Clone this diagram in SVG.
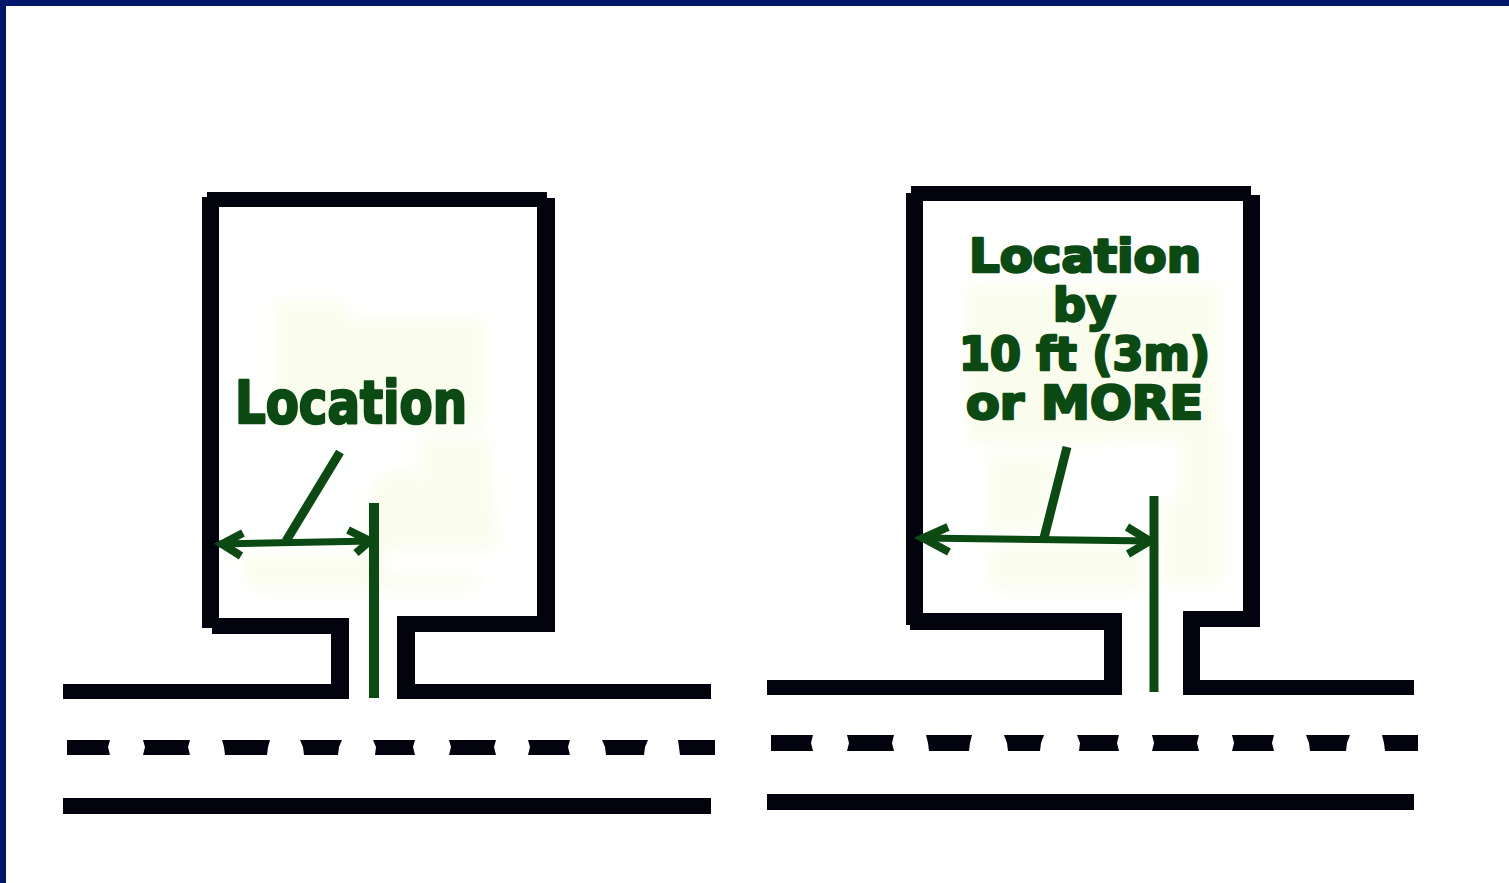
<svg xmlns="http://www.w3.org/2000/svg" width="1509" height="883" viewBox="0 0 1509 883">
<style>
.k{fill:#03020f}
.patch{fill:#fafdee;filter:url(#soft)}
.g{fill:none;stroke:#0b4a12;stroke-linecap:butt;stroke-linejoin:miter}
.t{font-family:"DejaVu Sans","Liberation Sans",sans-serif;font-weight:700;fill:#0b4a12;stroke:#0b4a12;stroke-width:2.6;stroke-linejoin:round}
</style>
<defs><filter id="soft" x="-20%" y="-20%" width="140%" height="140%"><feGaussianBlur stdDeviation="7"/></filter></defs>
<rect width="1509" height="883" fill="#fff"/>
<rect width="1509" height="6" fill="#01186a"/>
<rect width="6" height="883" fill="#01186a"/>
<g id="background-patches">
<path class="patch" d="M275 300H345L350 318H485V430H425V470H385V575H480V590H250L240 555H372V480H420V435H470V425H275ZM425 440H490L497 550H385V480H425Z"/>
<path class="patch" d="M965 285H1220V440H1110V445H970L965 290ZM1180 430H1222V585H1165V500H1180ZM990 455H1060L1040 530H990ZM990 545H1145V590H990Z"/>
</g>
<g id="left-building">
<rect class="k" x="207" y="192" width="340" height="15"/>
<rect class="k" x="202" y="197" width="17" height="431"/>
<rect class="k" x="537" y="198" width="18" height="432"/>
<rect class="k" x="212" y="618" width="137" height="16"/>
<rect class="k" x="331" y="618" width="18" height="81"/>
<rect class="k" x="397" y="616" width="158" height="16"/>
<rect class="k" x="397" y="618" width="18" height="81"/>
</g>
<g id="left-road">
<rect class="k" x="63" y="684" width="286" height="15"/>
<rect class="k" x="397" y="684" width="314" height="15"/>
<rect class="k" x="63" y="798" width="648" height="16"/>
<path class="k" d="M67 740h43l-2 7 2 8h-43z"/>
<path class="k" d="M143 740h47l-2 7 2 8h-47l2-8z"/>
<path class="k" d="M222 740h48l-2 7-1 8h-42l-1-8z"/>
<path class="k" d="M300 740h42l-3 7-1 8h-34l-1-8z"/>
<path class="k" d="M373 740h42l-2 7 2 8h-40l1-8z"/>
<path class="k" d="M449 740h47l-2 7 2 8h-47l2-8z"/>
<path class="k" d="M528 740h42l-2 7 2 8h-42l2-8z"/>
<path class="k" d="M602 740h46l-3 7-1 8h-38l-1-8z"/>
<path class="k" d="M678 740h37v15h-35l-1-8z"/>
</g>
<g id="right-building">
<rect class="k" x="911" y="186" width="340" height="15"/>
<rect class="k" x="906" y="193" width="17" height="432"/>
<rect class="k" x="1243" y="195" width="17" height="430"/>
<rect class="k" x="910" y="613" width="212" height="17"/>
<rect class="k" x="1104" y="613" width="18" height="82"/>
<rect class="k" x="1183" y="611" width="77" height="16"/>
<rect class="k" x="1183" y="612" width="17" height="83"/>
</g>
<g id="right-road">
<rect class="k" x="767" y="680" width="355" height="15"/>
<rect class="k" x="1183" y="680" width="231" height="15"/>
<rect class="k" x="767" y="794" width="647" height="16"/>
<path class="k" d="M771 735h42l-2 8 2 8h-42z"/>
<path class="k" d="M847 735h47l-2 8 2 8h-47l2-8z"/>
<path class="k" d="M926 735h46l-2 8-1 8h-40l-1-8z"/>
<path class="k" d="M1004 735h40l-3 8-1 8h-32l-1-8z"/>
<path class="k" d="M1077 735h42l-2 8 2 8h-40l1-8z"/>
<path class="k" d="M1152 735h47l-2 8 2 8h-47l2-8z"/>
<path class="k" d="M1232 735h42l-2 8 2 8h-42l2-8z"/>
<path class="k" d="M1306 735h44l-3 8-1 8h-36l-1-8z"/>
<path class="k" d="M1382 735h36v16h-33l-1-8z"/>
</g>
<g id="connectors">
<path class="g" stroke-width="10" d="M374 503V698"/>
<path class="g" stroke-width="7" d="M219 544L372 541"/>
<path class="g" stroke-width="9" d="M340 452L286 541"/>
<path class="g" stroke-width="8" d="M243 533L222 544L241 556M348 530L370 541L356 553"/>
<path class="g" stroke-width="9" d="M1154 496V692"/>
<path class="g" stroke-width="7" d="M920 538L1152 541"/>
<path class="g" stroke-width="9" d="M1067 447L1044 538"/>
<path class="g" stroke-width="8" d="M948 527L923 538L949 552M1127 527L1150 541L1128 554"/>
</g>
<g id="left-label">
<text class="t" x="235" y="423" font-size="59" textLength="232" lengthAdjust="spacingAndGlyphs">Location</text>
</g>
<g id="right-label">
<text class="t" x="969" y="272" font-size="46" textLength="232" lengthAdjust="spacingAndGlyphs">Location</text>
<text class="t" x="1053" y="321" font-size="46" textLength="63" lengthAdjust="spacingAndGlyphs">by</text>
<text class="t" x="959" y="370" font-size="46" textLength="251" lengthAdjust="spacingAndGlyphs">10 ft (3m)</text>
<text class="t" x="966" y="419" font-size="46" textLength="237" lengthAdjust="spacingAndGlyphs">or MORE</text>
</g>
</svg>
